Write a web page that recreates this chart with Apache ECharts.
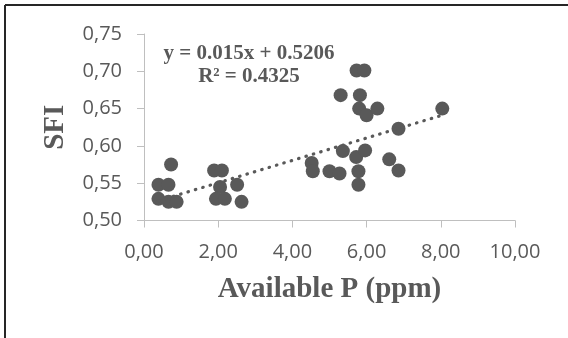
<!DOCTYPE html>
<html>
<head>
<meta charset="utf-8">
<script src="https://cdn.jsdelivr.net/npm/echarts@6/dist/echarts.min.js"></script>
<style>
  html, body { margin: 0; padding: 0; background: #ffffff; }
  #chart { width: 568px; height: 338px; }
</style>
</head>
<body>
<div id="chart"></div>
<script>
// Available phosphorus (ppm) against SFI, one entry per sample
const availableP = [
  0.39, 0.66, 0.73, 0.39, 0.66, 0.88,
  1.89, 2.10, 2.05, 2.51, 1.94, 2.18, 2.63,
  4.52, 4.55, 5.00, 5.27, 5.30, 5.36, 5.73, 5.94, 5.82, 5.80, 6.00,
  6.29, 5.72, 5.96, 5.78, 5.78, 6.61, 6.86, 6.86, 8.04
];
const sfi = [
  0.548, 0.548, 0.575, 0.529, 0.525, 0.525,
  0.567, 0.567, 0.545, 0.548, 0.529, 0.529, 0.525,
  0.577, 0.566, 0.566, 0.563, 0.668, 0.593, 0.701, 0.701, 0.668, 0.650, 0.641,
  0.650, 0.585, 0.594, 0.566, 0.548, 0.582, 0.567, 0.623, 0.650
];

// Linear trend as printed on the chart
const trendSlope = 0.015;
const trendIntercept = 0.5206;
const trendLabel = ['y = 0.015x + 0.5206', 'R² = 0.4325'];

// Axis ticks and their labels
const xTicks = [0, 2, 4, 6, 8, 10];
const xTickLabels = ['0,00', '2,00', '4,00', '6,00', '8,00', '10,00'];
const yTicks = [0.50, 0.55, 0.60, 0.65, 0.70, 0.75];
const yTickLabels = ['0,50', '0,55', '0,60', '0,65', '0,70', '0,75'];

const xName = 'Available P (ppm)';
const yName = 'SFI';

const points = availableP.map((x, i) => [x, sfi[i]]);
const xMin = Math.min(...availableP);
const xMax = Math.max(...availableP);
const trend = [xMin, xMax].map(x => [x, trendIntercept + trendSlope * x]);

function labelFor(ticks, labels) {
  return v => {
    const i = ticks.findIndex(t => Math.abs(t - v) < 1e-6);
    return i >= 0 ? labels[i] : '';
  };
}

const ink = '#595959';
const axisGray = '#bfbfbf';
const serif = '"Liberation Serif", "Times New Roman", serif';
const sans = '"Open Sans", "Noto Sans", sans-serif';

const chart = echarts.init(document.getElementById('chart'), null, { renderer: 'canvas' });
chart.setOption({
  animation: false,
  backgroundColor: '#ffffff',
  grid: { left: 144, right: 53, top: 34, bottom: 117.5 },
  xAxis: {
    type: 'value',
    min: xTicks[0],
    max: xTicks[xTicks.length - 1],
    interval: 2,
    name: xName,
    nameLocation: 'middle',
    nameGap: 55,
    nameTextStyle: { fontFamily: serif, fontWeight: 'bold', fontSize: 29, color: ink },
    axisLine: { show: true, lineStyle: { color: axisGray, width: 1 } },
    axisTick: { show: true, length: 7, lineStyle: { color: axisGray } },
    axisLabel: { formatter: labelFor(xTicks, xTickLabels), fontFamily: sans, fontSize: 20, color: ink, margin: 22 },
    splitLine: { show: false }
  },
  yAxis: {
    type: 'value',
    min: yTicks[0],
    max: yTicks[yTicks.length - 1],
    interval: 0.05,
    name: yName,
    nameLocation: 'middle',
    nameGap: 74,
    nameTextStyle: { fontFamily: serif, fontWeight: 'bold', fontSize: 29, color: ink },
    axisLine: { show: true, lineStyle: { color: axisGray, width: 1 } },
    axisTick: { show: true, length: 7, lineStyle: { color: axisGray } },
    axisLabel: { formatter: labelFor(yTicks, yTickLabels), fontFamily: sans, fontSize: 20, color: ink, margin: 22 },
    splitLine: { show: false }
  },
  series: [
    {
      type: 'scatter',
      data: points,
      symbol: 'circle',
      symbolSize: 14,
      itemStyle: { color: ink, opacity: 1 },
      z: 2
    },
    {
      type: 'line',
      data: trend,
      showSymbol: false,
      symbol: 'none',
      lineStyle: { color: ink, width: 3.2, type: [0.5, 7.2], cap: 'round' },
      z: 3
    }
  ],
  graphic: [
    // chart frame: only the top and left edges fall inside the view
    { type: 'line', shape: { x1: 5, y1: 5, x2: 568, y2: 5 }, style: { stroke: '#262626', lineWidth: 2 } },
    { type: 'line', shape: { x1: 5, y1: 5, x2: 5, y2: 338 }, style: { stroke: '#262626', lineWidth: 2 } },
    {
      type: 'text', x: 249, y: 53.5,
      style: { text: trendLabel[0], fill: ink, font: 'bold 21px ' + serif, align: 'center', verticalAlign: 'middle' }
    },
    {
      type: 'text', x: 249, y: 76.5,
      style: { text: trendLabel[1], fill: ink, font: 'bold 21px ' + serif, align: 'center', verticalAlign: 'middle' }
    }
  ]
});
</script>
</body>
</html>
